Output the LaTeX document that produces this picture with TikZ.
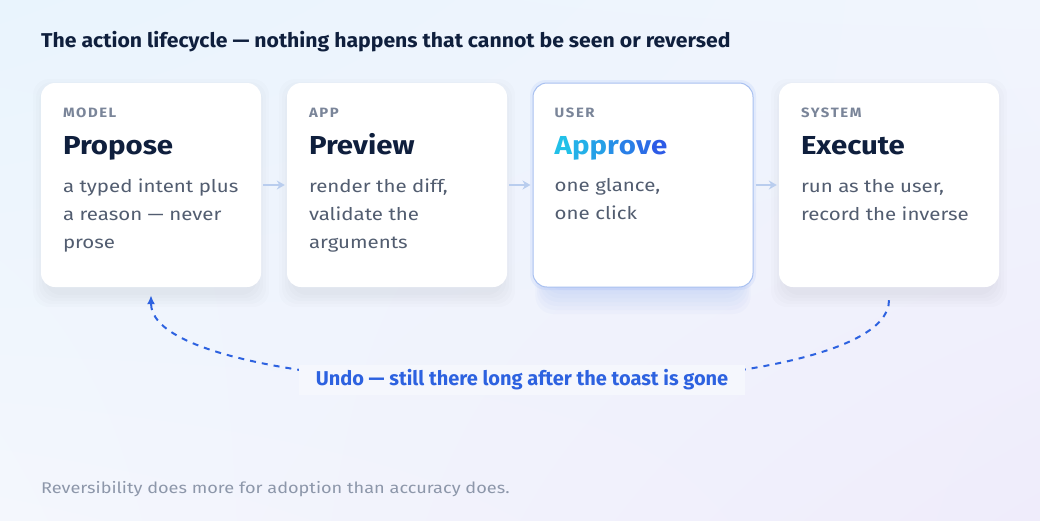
\documentclass[tikz,border=0pt]{standalone}
\usepackage{fontspec}
\setmainfont[FakeStretch=1.17]{Fira Sans}
\newfontfamily\headfont[FakeStretch=1.13]{Fira Sans}
\newfontfamily\tagfont[FakeStretch=1.1,LetterSpace=12]{Fira Sans}
\newfontfamily\titlefont[FakeStretch=1.06]{Fira Sans}
\newfontfamily\undofont[FakeStretch=1.0]{Fira Sans}
\usetikzlibrary{positioning,arrows.meta,shadings}

\definecolor{navy}{HTML}{0F1F3D}
\definecolor{taggray}{HTML}{7A8599}
\definecolor{bodygray}{HTML}{525D70}
\definecolor{footgray}{HTML}{8D97AA}
\definecolor{undoblue}{HTML}{2D62E0}
\definecolor{flowblue}{HTML}{B9CDEE}
\definecolor{apcyan}{HTML}{22C0E8}
\definecolor{apblue}{HTML}{2D5BE6}
\definecolor{apborder}{HTML}{A8C0F0}
\definecolor{glowblue}{HTML}{6E95F7}
\definecolor{bgtl}{HTML}{E9F4FD}
\definecolor{bgtr}{HTML}{F1F5FD}
\definecolor{bgbl}{HTML}{F4F7FD}
\definecolor{bgbr}{HTML}{EFECFB}
\definecolor{labelbg}{HTML}{F5F7FD}

\begin{document}
\begin{tikzpicture}[x=1pt,y=-1pt,
    card/.style={fill=white, rounded corners=14pt, minimum width=220pt, minimum height=204pt},
    tag/.style={anchor=base west, inner sep=0pt, text=taggray, font=\tagfont\bfseries\fontsize{13.5}{15}\selectfont},
    head/.style={anchor=base west, inner sep=0pt, text=navy, font=\headfont\bfseries\fontsize{26}{30}\selectfont},
    body/.style={anchor=north west, inner sep=0pt, align=left, text=bodygray, font=\fontsize{17.5}{28}\selectfont},
    flow/.style={draw=flowblue, line width=2pt, -{Stealth[length=8pt,width=9pt]}, shorten >=2pt, shorten <=2pt},
    undo/.style={draw=undoblue, line width=2pt, dash pattern=on 6pt off 6pt, -{Latex[length=9pt,width=8pt]}}]

    % background
    \shade[upper left=bgtl, upper right=bgtr, lower left=bgbl, lower right=bgbr]
        (0,0) rectangle (1040,520);
    \useasboundingbox (0,0) rectangle (1040,520);

    % title
    \node[anchor=base west, inner sep=0pt, text=navy, font=\titlefont\bfseries\fontsize{20}{22}\selectfont] (title) at (41,47)
        {The action lifecycle — nothing happens that cannot be seen or reversed};

    % soft shadows under the cards
    \foreach \cx in {151,397,889}
        \foreach \g in {12,9,6,3,0}
            \fill[black, opacity=0.012, rounded corners=16pt] (\cx-110-\g+4,91-\g) rectangle (\cx+110+\g-4,295+\g);
    % glow under the approve card
    \foreach \g in {24,20,16,12,8,4,0}
        \fill[glowblue, opacity=0.035, rounded corners=18pt] (545-0.4*\g,120) rectangle (741+0.4*\g,290+\g);
    \fill[glowblue, opacity=0.10, rounded corners=16pt] (530,80) rectangle (756,290);

    % cards
    \node[card] (propose) at (151,185) {};
    \node[card] (preview) at (397,185) {};
    \node[card, draw=apborder, line width=1pt] (approve) at (643,185) {};
    \node[card] (execute) at (889,185) {};

    % card texts
    \node[tag] (proposeTag) at ([shift={(22,35)}]propose.north west) {MODEL};
    \node[head] (proposeHead) at ([shift={(22,72)}]propose.north west) {Propose};
    \node[body] (proposeBody) at ([shift={(22,89.4)}]propose.north west) {\strut a typed intent plus\\a reason — never\\prose};

    \node[tag] (previewTag) at ([shift={(22,35)}]preview.north west) {APP};
    \node[head] (previewHead) at ([shift={(22,72)}]preview.north west) {Preview};
    \node[body] (previewBody) at ([shift={(22,89.4)}]preview.north west) {\strut render the diff,\\validate the\\arguments};

    \node[tag] (approveTag) at ([shift={(22,35)}]approve.north west) {USER};
    \node[head] (approveHead) at ([shift={(22,72)}]approve.north west)
        {{\color{apcyan}A}{\color{apcyan!84!apblue}p}{\color{apcyan!68!apblue}p}{\color{apcyan!52!apblue}r}{\color{apcyan!36!apblue}o}{\color{apcyan!18!apblue}v}{\color{apblue}e}};
    \node[body] (approveBody) at ([shift={(22,89.4)}]approve.north west) {\strut one glance,\\one click};

    \node[tag] (executeTag) at ([shift={(22,35)}]execute.north west) {SYSTEM};
    \node[head] (executeHead) at ([shift={(22,72)}]execute.north west) {Execute};
    \node[body] (executeBody) at ([shift={(22,89.4)}]execute.north west) {\strut run as the user,\\record the inverse};

    % flow arrows
    \draw[flow] (propose) -- (preview);
    \draw[flow] (preview) -- (approve);
    \draw[flow] (approve) -- (execute);

    % undo loop
    \coordinate (undoStart) at ([shift={(0,13)}]execute.south);
    \coordinate (undoEnd) at ([shift={(0,8)}]propose.south);
    \draw[undo] (undoStart) .. controls +(0,115) and +(0,115) .. (undoEnd);
    \node[fill=labelbg, minimum width=446pt, minimum height=30pt, text=undoblue,
        font=\undofont\bfseries\fontsize{20}{22}\selectfont] (undoLabel) at (522,380)
        {Undo — still there long after the toast is gone};

    % footnote
    \node[anchor=base west, inner sep=0pt, text=footgray, font=\fontsize{15.5}{18}\selectfont] (note) at (41,493)
        {Reversibility does more for adoption than accuracy does.};
\end{tikzpicture}
\end{document}
